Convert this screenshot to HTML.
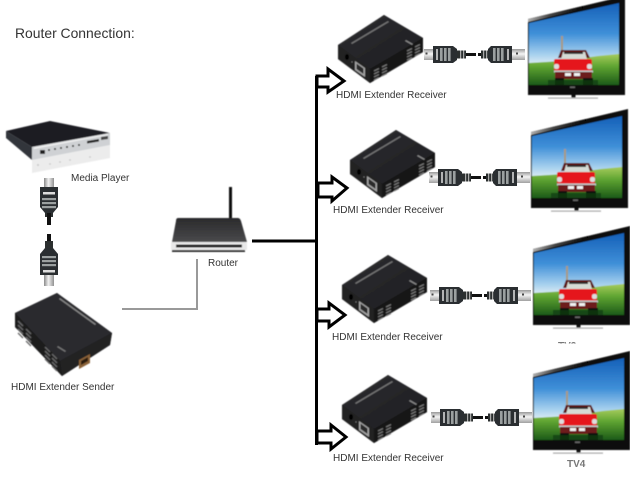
<!DOCTYPE html>
<html>
<head>
<meta charset="utf-8">
<style>
html,body{margin:0;padding:0;background:#fff;}
svg{display:block;}
text{font-family:"Liberation Sans",sans-serif;fill:#333;}
</style>
</head>
<body>
<svg xmlns="http://www.w3.org/2000/svg" width="630" height="480" viewBox="0 0 630 480">
<defs>
  <linearGradient id="sky" x1="0" y1="0" x2="0" y2="1">
    <stop offset="0" stop-color="#1560b8"/>
    <stop offset="0.5" stop-color="#3f8fd8"/>
    <stop offset="0.85" stop-color="#a9d2ee"/>
    <stop offset="1" stop-color="#dcecf4"/>
  </linearGradient>
  <linearGradient id="grass" x1="0" y1="0" x2="0" y2="1">
    <stop offset="0" stop-color="#a7cb5c"/>
    <stop offset="0.4" stop-color="#5fa532"/>
    <stop offset="1" stop-color="#1c5a18"/>
  </linearGradient>
  <linearGradient id="bezelTop" x1="0" y1="0" x2="1" y2="0">
    <stop offset="0" stop-color="#b0b0b0"/>
    <stop offset="0.4" stop-color="#444"/>
    <stop offset="1" stop-color="#050505"/>
  </linearGradient>
  <linearGradient id="silver" x1="0" y1="0" x2="0" y2="1">
    <stop offset="0" stop-color="#9a9a9a"/>
    <stop offset="0.45" stop-color="#f4f4f4"/>
    <stop offset="1" stop-color="#a0a0a0"/>
  </linearGradient>
  <linearGradient id="silverV" x1="0" y1="0" x2="1" y2="0">
    <stop offset="0" stop-color="#8a8a8a"/>
    <stop offset="0.45" stop-color="#f2f2f2"/>
    <stop offset="1" stop-color="#909090"/>
  </linearGradient>
  <linearGradient id="topface" x1="0" y1="0" x2="1" y2="1">
    <stop offset="0" stop-color="#2e2e32"/>
    <stop offset="1" stop-color="#1c1c1f"/>
  </linearGradient>
  <linearGradient id="rtop" x1="0" y1="0" x2="0" y2="1">
    <stop offset="0" stop-color="#2a2a2c"/>
    <stop offset="1" stop-color="#4a4a4c"/>
  </linearGradient>
  <filter id="soft" x="-5%" y="-5%" width="110%" height="110%"><feGaussianBlur stdDeviation="0.45"/></filter>

  <g id="tv">
    <polygon points="0,-1 97,-24 97,75 0,75" fill="#080808"/>
    <polygon points="0,-1 55,-14 55,-11 0,2" fill="url(#bezelTop)"/>
    <polygon points="1,3 91,-17 91,36 1,44" fill="url(#sky)"/>
    <polygon points="1,43 35,41 70,36 91,34 91,65 1,65" fill="url(#grass)"/>
    <!-- mast -->
    <rect x="33" y="16" width="2" height="15" fill="#a89a80"/>
    <!-- car -->
    <polygon points="30,38 33,30 58,30 62,38" fill="#5d1616"/>
    <polygon points="33,39 35,32 57,32 59,39" fill="#d5dbd5"/>
    <rect x="36" y="32" width="19" height="2" fill="#2a2a2a"/>
    <rect x="26" y="39" width="38" height="12" rx="2" fill="#e5141d"/>
    <rect x="26" y="44" width="5" height="5" rx="2" fill="#ddd"/>
    <rect x="59" y="44" width="5" height="5" rx="2" fill="#ddd"/>
    <rect x="26" y="50.500" width="39" height="2" fill="#c5c5c5"/>
    <rect x="27" y="52" width="37" height="7" fill="#6d1a1a"/>
    <rect x="37" y="53" width="6" height="3" fill="#f2f2f2"/>
    <rect x="46" y="53" width="6" height="3" fill="#f2f2f2"/>
    <rect x="27" y="58" width="9" height="7" fill="#0c0c0c"/>
    <rect x="55" y="58" width="10" height="7" fill="#0c0c0c"/>
    <rect x="20" y="60" width="50" height="5" fill="#123e12" opacity=".75"/>
    <!-- base -->
    <rect x="42" y="66.500" width="5" height="1.500" fill="#666"/>
    <rect x="43.500" y="74" width="4" height="4" fill="#111"/>
    <rect x="20" y="77.500" width="50" height="1.200" fill="#aaa"/>
  </g>

  <g id="vent">
    <line x1="0" y1="0" x2="5" y2="-2.500"/>
    <line x1="0" y1="3" x2="5" y2="0.500"/>
    <line x1="0" y1="6" x2="5" y2="3.500"/>
    <line x1="0" y1="9" x2="5" y2="6.500"/>
  </g>

  <g id="receiver">
    <polygon points="0,30 46,0 85,23 85,37 32,68 0,44" fill="#111"/>
    <polygon points="0,30 46,0 85,23 32,54" fill="url(#topface)"/>
    <polygon points="0,30 32,54 32,68 0,44" fill="#202022"/>
    <polygon points="32,54 85,23 85,37 32,68" fill="#141416"/>
    <g stroke="#7d7d7d" stroke-width="1.200" fill="none">
      <use href="#vent" x="36" y="56"/>
      <use href="#vent" x="44" y="52"/>
      <use href="#vent" x="69" y="36"/>
      <use href="#vent" x="77" y="32"/>
    </g>
    <polygon points="17,46 27,53 27,62 17,55" fill="#a5a5a5"/>
    <polygon points="18.500,48.500 25.500,53.500 25.500,59 18.500,54" fill="#2a2a2a"/>
    <ellipse cx="9" cy="42" rx="2" ry="3" fill="#050505"/>
    <circle cx="14" cy="47" r=".7" fill="#777"/>
    <polygon points="13,28 50,6 51,7 14,29" fill="#8a8a8a" opacity=".8"/>
    <polygon points="68,25 75,29 74,30 67,26" fill="#8a8a8a"/>
  </g>

  <g id="cable">
    <rect x="1" y="-5" width="10" height="11" fill="url(#silver)"/>
    <rect x="2.500" y="-1.500" width="2" height="2" fill="#444"/>
    <polygon points="10,-8 30,-8 34,-5 34,6 30,9 10,9" fill="#2a2e31"/>
    <rect x="13" y="-5" width="2" height="11" fill="#e2e2e2" opacity=".75"/>
    <g fill="#9ba0a0"><rect x="17" y="-6" width="2.600" height="13"/><rect x="21" y="-6" width="2.600" height="13"/><rect x="25" y="-6" width="2.600" height="13"/></g>
    <rect x="34" y="-3.500" width="9" height="8" fill="#2b2f2f"/>
    <rect x="37" y="-3.500" width="1.200" height="8" fill="#aaa"/>
    <rect x="40" y="-3.500" width="1.200" height="8" fill="#aaa"/>
    <rect x="43" y="-1" width="10" height="3" fill="#111"/>
    <rect x="55" y="-1" width="3" height="3" fill="#111"/>
    <rect x="58" y="-3.500" width="7" height="8" fill="#2b2f2f"/>
    <rect x="60" y="-3.500" width="1.200" height="8" fill="#aaa"/>
    <rect x="63" y="-3.500" width="1.200" height="8" fill="#aaa"/>
    <polygon points="65,-5 68,-8 89,-8 89,9 68,9 65,6" fill="#2a2e31"/>
    <g fill="#9ba0a0"><rect x="70" y="-6" width="2.600" height="13"/><rect x="74" y="-6" width="2.600" height="13"/><rect x="78" y="-6" width="2.600" height="13"/></g>
    <rect x="84" y="-5" width="2" height="11" fill="#e2e2e2" opacity=".75"/>
    <rect x="89" y="-5" width="13" height="11" fill="url(#silver)"/>
    <rect x="93" y="-1.500" width="2" height="2" fill="#444"/>
  </g>
</defs>

<rect width="630" height="480" fill="#fff"/>

<text x="15" y="38" font-size="13.900" fill="#222">Router Connection:</text>

<!-- media player -->
<g filter="url(#soft)">
  <polygon points="32,160 110,145 110,158 32,173" fill="#ececec"/>
  <polygon points="6,131 50,121 110,133 32,147" fill="#1a1a20"/>
  <polygon points="6,131 32,147 32,160 6,138" fill="#33343a"/>
  <polygon points="32,147 110,133 110,145 32,160" fill="#cfd1d4"/>
  <polygon points="34,147.500 108,134 108,135 34,149" fill="#f2f2f2"/>
  <rect x="40" y="150" width="5" height="4" fill="#222"/>
  <g fill="#222">
    <circle cx="49" cy="150" r="1"/><circle cx="55" cy="149" r="1"/><circle cx="61" cy="148" r="1"/><circle cx="67" cy="147" r="1"/><circle cx="73" cy="146" r="1"/><circle cx="79" cy="145" r="1"/>
  </g>
  <polygon points="87,141 99,139 99,141.500 87,143.500" fill="#222"/>
  <polygon points="101,137 108,136 108,139 101,140" fill="#444"/>
  <g fill="#c8c8c8">
    <circle cx="38" cy="165" r="1"/><circle cx="50" cy="164" r=".9"/><circle cx="60" cy="162" r=".9"/><circle cx="70" cy="160" r=".9"/><circle cx="90" cy="157" r=".9"/>
  </g>
</g>
<text x="71" y="181" font-size="10">Media Player</text>

<!-- vertical cables -->
<g>
  <rect x="44" y="178" width="10" height="9" fill="url(#silverV)"/>
  <polygon points="40,187 58,187 58,207 53,213 45,213 40,207" fill="#2a2e31"/>
  <rect x="43" y="192" width="12" height="2.500" fill="#ddd"/>
  <rect x="42" y="198" width="14" height="2.200" fill="#9ba0a0"/>
  <rect x="42" y="202" width="14" height="2.200" fill="#9ba0a0"/>
  <rect x="42" y="206" width="14" height="2.200" fill="#9ba0a0"/>
  <rect x="45" y="213" width="8" height="4" fill="#2b2f2f"/>
  <rect x="47" y="213" width="4" height="12" fill="#111"/>
  <rect x="47" y="234" width="4" height="8" fill="#111"/>
  <rect x="45" y="241" width="8" height="7" fill="#2b2f2f"/>
  <polygon points="45,248 53,248 58,254 58,275 40,275 40,254" fill="#2a2e31"/>
  <rect x="42" y="256" width="14" height="2.200" fill="#9ba0a0"/>
  <rect x="42" y="260" width="14" height="2.200" fill="#9ba0a0"/>
  <rect x="42" y="264" width="14" height="2.200" fill="#9ba0a0"/>
  <rect x="43" y="270" width="12" height="2.500" fill="#ddd"/>
  <rect x="44" y="275" width="10" height="11" fill="url(#silverV)"/>
</g>

<!-- sender -->
<g filter="url(#soft)">
  <polygon points="57,293 112,333 110,345 62,376 15,327 15,313" fill="#141416"/>
  <polygon points="57,293 112,333 60,361 15,313" fill="#2b2b2e"/>
  <polygon points="15,313 60,361 62,376 15,327" fill="#1a1a1c"/>
  <polygon points="60,361 112,333 110,345 62,376" fill="#202022"/>
  <g stroke="#6a6a6a" stroke-width="1.300" fill="none">
    <path d="M18 321l5 5M18 325l5 5M18 329l5 5M18 333l5 5"/>
    <path d="M26 329l5 5M26 333l5 5M26 337l5 5M26 341l5 5"/>
    <path d="M45 347l5 5M45 351l5 5M45 355l5 5M45 359l5 5"/>
    <path d="M52 354l5 5M52 358l5 5M52 362l5 5M52 366l5 5"/>
  </g>
  <polygon points="79,360 90,354 90,363 79,369" fill="#8a6238"/>
  <polygon points="81,361 88,357 88,361 81,365" fill="#2a1a10"/>
  <polygon points="60,298 96,324 95,325 59,299" fill="#888"/>
  <polygon points="58,346 66,351 65,352 57,347" fill="#777"/>
</g>
<text x="11" y="390" font-size="10">HDMI Extender Sender</text>

<!-- router -->
<g filter="url(#soft)">
  <rect x="229" y="187" width="3" height="32" fill="#111"/>
  <path d="M178,218 H238 Q240,218 241,221 L247,242 H172 L176,221 Q176,218 178,218Z" fill="url(#rtop)"/>
  <rect x="171" y="242" width="76" height="8" rx="1" fill="#e8e8e8"/>
  <rect x="176" y="244.500" width="66" height="3" fill="#222"/>
  <rect x="172" y="250" width="73" height="2" fill="#333"/>
</g>
<text x="208" y="266" font-size="10">Router</text>

<!-- connecting lines -->
<polyline points="122,309 197,309 197,259" fill="none" stroke="#999" stroke-width="2"/>
<line x1="252" y1="241" x2="317" y2="241" stroke="#000" stroke-width="3"/>
<line x1="316.500" y1="76" x2="316.500" y2="445" stroke="#000" stroke-width="3"/>

<!-- arrows -->
<g fill="#fff" stroke="#000" stroke-width="3" stroke-linejoin="miter">
  <polygon points="317,76 328,76 328,69 344,81 328,92 328,87 317,87"/>
  <polygon points="318,183 332,183 332,177 347,188 332,201 332,197 318,197"/>
  <polygon points="317,309 329,309 329,303 345,315 329,327 329,321 317,321"/>
  <polygon points="317,431 331,431 331,425 346,437 331,449 331,443 317,443"/>
</g>

<!-- receivers -->
<use href="#receiver" x="338" y="15" filter="url(#soft)"/>
<use href="#receiver" x="350" y="130" filter="url(#soft)"/>
<use href="#receiver" x="342" y="255" filter="url(#soft)"/>
<use href="#receiver" x="342" y="375" filter="url(#soft)"/>

<!-- cables -->
<use href="#cable" x="423" y="54"/>
<use href="#cable" x="428" y="177"/>
<use href="#cable" x="429" y="295"/>
<use href="#cable" x="430" y="417"/>

<!-- TVs -->
<use href="#tv" x="528" y="20" filter="url(#soft)"/>
<use href="#tv" x="531" y="133" filter="url(#soft)"/>
<use href="#tv" x="533" y="250" filter="url(#soft)"/>
<use href="#tv" x="533" y="375" filter="url(#soft)"/>

<!-- labels -->
<text x="336" y="98" font-size="10">HDMI Extender Receiver</text>
<text x="333" y="213" font-size="10">HDMI Extender Receiver</text>
<text x="332" y="340" font-size="10">HDMI Extender Receiver</text>
<text x="333" y="461" font-size="10">HDMI Extender Receiver</text>

<clipPath id="tv3clip"><rect x="550" y="340" width="30" height="3.500"/></clipPath>
<text x="558" y="349" font-size="10" font-weight="bold" style="fill:#777" clip-path="url(#tv3clip)">TV3</text>
<text x="567" y="467" font-size="10" font-weight="bold" style="fill:#777">TV4</text>
</svg>
</body>
</html>
